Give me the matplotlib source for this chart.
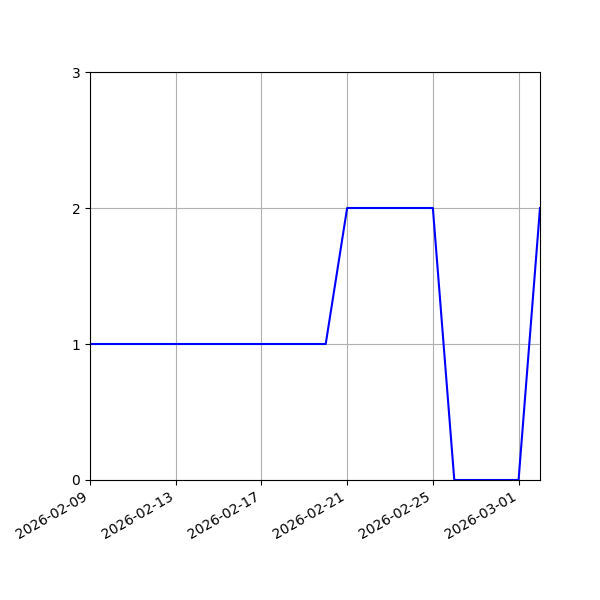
import pandas as pd
import matplotlib
matplotlib.use('Agg')
import matplotlib.pyplot as plt
import matplotlib.dates as mdates

# Daily counts
dates = pd.date_range('2026-02-09', '2026-03-02', freq='D')
counts = [1, 1, 1, 1, 1, 1, 1, 1, 1, 1, 1, 1,
          2, 2, 2, 2, 2,
          0, 0, 0, 0,
          2]

fig, ax = plt.subplots(figsize=(6, 6), dpi=100)
ax.plot(dates, counts, color='blue')

ax.set_xlim(dates[0], dates[-1])
ax.set_ylim(0, 3)
ax.set_yticks([0, 1, 2, 3])
ax.set_xticks(dates[::4])
ax.xaxis.set_major_formatter(mdates.DateFormatter('%Y-%m-%d'))
ax.grid(True)

fig.autofmt_xdate()
fig.subplots_adjust(left=0.15, right=0.9, top=0.88, bottom=0.2)
fig.savefig('out.png', dpi=100)
